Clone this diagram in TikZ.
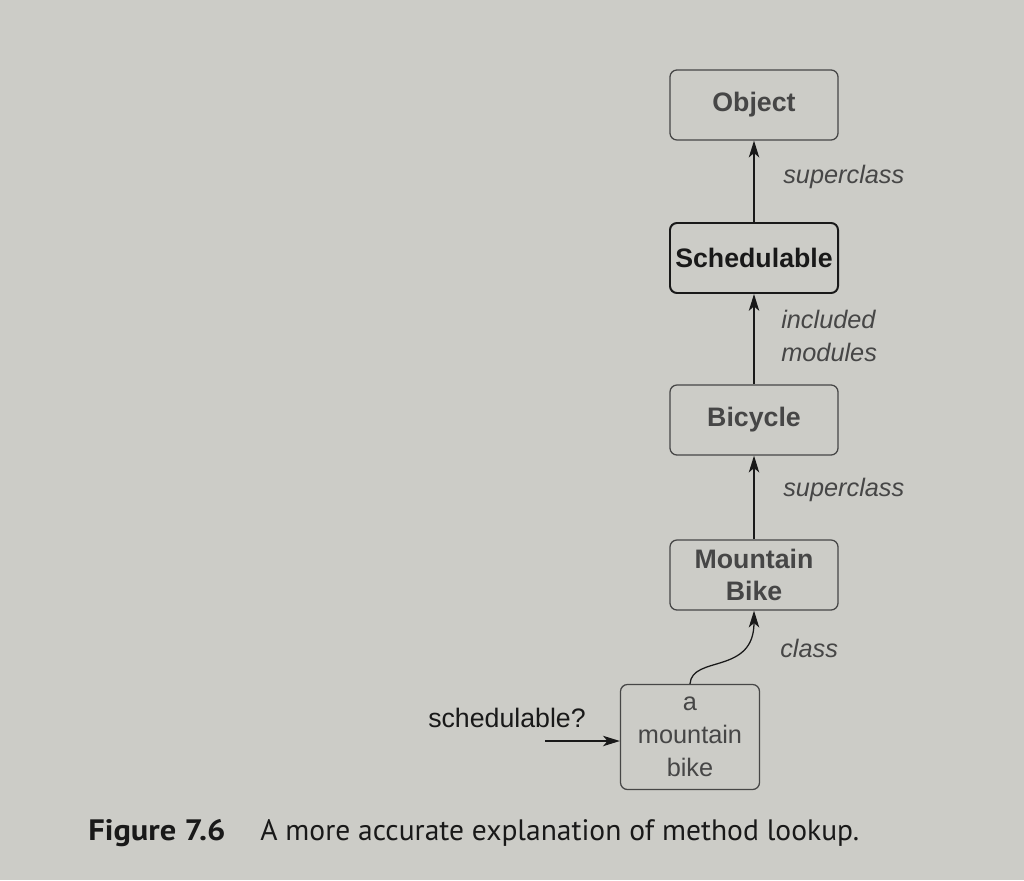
\documentclass[tikz,border=0pt]{standalone}
\usepackage{fontspec}
\setmainfont{Liberation Sans}
\newfontfamily\capfont{PT Sans}
\usetikzlibrary{arrows.meta}
\definecolor{paper}{RGB}{204,204,199}
\definecolor{ink}{RGB}{70,70,70}
\definecolor{darkink}{RGB}{25,25,25}
\tikzset{
  box/.style={draw=ink, line width=0.9pt, rounded corners=5pt, minimum width=4.2cm, minimum height=1.75cm,
    align=center, text=ink, font=\fontsize{19}{23}\selectfont\bfseries, inner sep=2pt},
  schedbox/.style={draw=darkink, line width=1.4pt, text=darkink},
  instbox/.style={draw=ink, line width=0.9pt, rounded corners=5pt, minimum width=3.475cm, minimum height=2.625cm,
    align=center, text=ink, font=\fontsize{18}{23.5}\selectfont, inner sep=2pt},
  arr/.style={draw=darkink, line width=0.9pt, -{Stealth[length=0.42cm, width=0.26cm, inset=0.11cm]}},
  lbl/.style={text=ink, font=\fontsize{18}{23}\selectfont\itshape, anchor=west, align=left, inner sep=0pt},
  captxt/.style={anchor=west, inner sep=0pt, text=darkink},
}
\begin{document}
\begin{tikzpicture}[x=0.025cm,y=-0.025cm]
\fill[paper] (0,0) rectangle (1024,880);
\useasboundingbox (0,0) rectangle (1024,880);

\node[box] (obj) at (754,105) {Object};
\node[box, schedbox] (sch) at (754,258) {Schedulable};
\node[box] (bic) at (754,420) {Bicycle};
\node[box] (mb) at (754,575) {Mountain\\Bike};
\node[instbox] (inst) at (690,737) {a\\mountain\\bike};

\draw[arr] (sch.north) -- (obj.south);
\draw[arr] (bic.north) -- (sch.south);
\draw[arr] (mb.north) -- (bic.south);
\draw[arr] (inst.north) .. controls (692,655) and (754,675) .. (mb.south);

\node[lbl] (l1) at (783,177) {superclass};
\node[lbl] (l2) at (781,336) {included\\modules};
\node[lbl] (l3) at (783,490) {superclass};
\node[lbl] (l4) at (780,648) {class};

\node[text=darkink, font=\fontsize{19}{23}\selectfont, inner sep=0pt] (q) at (507,718) {schedulable?};
\coordinate (qs) at (545,741);
\draw[arr] (qs) -- (inst.west |- qs);

\node[captxt, font=\capfont\fontsize{21}{24}\selectfont\bfseries] (fig) at (88,833) {\scalebox{1.1}[1]{Figure 7.6}};
\node[captxt, font=\capfont\fontsize{21}{24}\selectfont] (cap) at (260,833) {A more accurate explanation of method lookup.};
\end{tikzpicture}
\end{document}
